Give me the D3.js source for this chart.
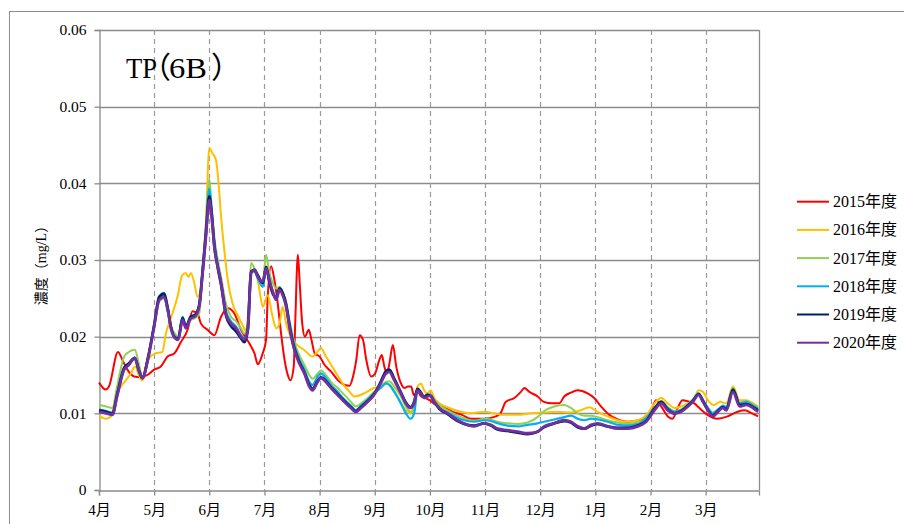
<!DOCTYPE html>
<html>
<head>
<meta charset="utf-8">
<script src="https://cdn.jsdelivr.net/npm/d3@7"></script>
<style>
  html, body { margin: 0; padding: 0; background: #fff; }
  svg { display: block; }
  text { font-family: "Liberation Serif", "Noto Sans CJK JP", serif; fill: #000; }
</style>
</head>
<body>
<svg id="chart" width="904" height="524"></svg>
<script>
// Fiscal-year labels and line colours
const years = ["2015年度", "2016年度", "2017年度", "2018年度", "2019年度", "2020年度"];
const colors = ["#ff0000", "#ffc000", "#92d050", "#00b0f0", "#002060", "#7030a0"];
const widths = [2, 2, 2, 2.2, 2.8, 2.8];

// Month tick labels (fiscal year starting in April)
const monthLabels = ["4月", "5月", "6月", "7月", "8月", "9月", "10月", "11月", "12月", "1月", "2月", "3月"];
const yTicks = [0, 0.01, 0.02, 0.03, 0.04, 0.05, 0.06];

// 2015 (day of fiscal year, mg/L)
const days2015 = [0,3.7,5.5,10.5,12.9,15.7,19.4,23,26.8,30.5,34.2,37.9,41.6,45.3,49,51.7,54.5,56.4,60,63.8,67.5,71.2,74.9,78.5,83.2,86,87.8,90.5,92.4,93.3,95.2,97,98.5,100.7,102.6,104.4,105.8,107.7,108.5,110,111,112.4,113.9,116,117.5,119.3,122,124.8,128.5,132.2,135.9,138.6,140.5,142.3,144.1,146,147.8,150.5,152.7,155.1,156.4,157.8,159.3,160.6,162.5,164.4,167,168.9,170.8,172.6,174.1,176.3,178.2,180.4,183,186.3,190,195.6,200.7,205.7,213,219.5,222,225,229.7,233.3,235.2,238,242.6,246,250.6,254.5,257.3,261,264.6,270.2,273.9,277.6,282.2,286.9,292.4,298,301.7,305.2,308,310.9,314.6,317.2,320,322.7,326.4,329.2,332,336.5,342,347.6,353.1,357,361.2,364.5];
const vals2015 = [0.0140,0.0131,0.0135,0.0180,0.0170,0.0157,0.0148,0.0147,0.0150,0.0157,0.0161,0.0174,0.0178,0.0193,0.0209,0.0233,0.0230,0.0217,0.0209,0.0202,0.0226,0.0237,0.0230,0.0209,0.0191,0.0178,0.0164,0.0178,0.0196,0.0252,0.0292,0.0274,0.0250,0.0204,0.0170,0.0150,0.0143,0.0161,0.0217,0.0307,0.0270,0.0217,0.0200,0.0209,0.0196,0.0178,0.0174,0.0163,0.0154,0.0143,0.0137,0.0136,0.0148,0.0170,0.0202,0.0196,0.0170,0.0148,0.0152,0.0170,0.0176,0.0161,0.0152,0.0165,0.0189,0.0161,0.0139,0.0133,0.0135,0.0135,0.0124,0.0128,0.0122,0.0120,0.0117,0.0111,0.0109,0.0102,0.0098,0.0093,0.0093,0.0096,0.0100,0.0115,0.0120,0.0128,0.0133,0.0128,0.0122,0.0115,0.0113,0.0113,0.0122,0.0127,0.0130,0.0126,0.0120,0.0109,0.0098,0.0092,0.0089,0.0091,0.0093,0.0102,0.0117,0.0109,0.0096,0.0093,0.0107,0.0117,0.0115,0.0113,0.0107,0.0098,0.0093,0.0096,0.0102,0.0104,0.0100,0.0096];

// 2016
const days2016 = [0,3.7,6.5,10,14.8,17.6,20,22,24,27.7,31,35,37,40,43.4,46,48,49.5,50.8,52.7,54.5,56,57.3,59.1,61,62.8,64.7,66,67.5,69.3,71.2,73.9,76.7,79.4,81.3,83.2,85,86.9,88.7,90.6,93.3,96,98,99.8,101.6,103.5,106,109.6,113.3,118.1,120,122.8,125.5,130,134.7,139.3,141.1,146.6,152.1,155.8,159.5,163.2,167,170.5,172.3,174.2,176.1,178,179.8,181.6,183.4,185.4,188.2,193.7,200.2,205.7,213,218.5,224,231.5,238.8,246.2,253.6,261,266.5,271.1,275.8,281.3,286.9,292.4,298,303.5,307.2,310.9,314.6,318.3,322,325.7,328.4,331.6,334,336.8,340,343.6,346.9,350.6,354.3,358,361.7,364.5];
const vals2016 = [0.0097,0.0093,0.0096,0.0126,0.0143,0.0152,0.0161,0.0150,0.0143,0.0172,0.0178,0.0180,0.0204,0.0226,0.0252,0.0280,0.0283,0.0278,0.0283,0.0270,0.0252,0.0258,0.0283,0.0348,0.0446,0.0439,0.0430,0.0404,0.0357,0.0313,0.0274,0.0243,0.0228,0.0215,0.0207,0.0252,0.0287,0.0283,0.0261,0.0239,0.0254,0.0226,0.0211,0.0217,0.0239,0.0217,0.0200,0.0189,0.0183,0.0174,0.0178,0.0185,0.0174,0.0157,0.0139,0.0126,0.0122,0.0126,0.0133,0.0135,0.0139,0.0130,0.0113,0.0102,0.0100,0.0109,0.0135,0.0139,0.0130,0.0126,0.0130,0.0120,0.0113,0.0107,0.0102,0.0100,0.0102,0.0100,0.0098,0.0098,0.0100,0.0101,0.0102,0.0101,0.0104,0.0108,0.0102,0.0096,0.0091,0.0089,0.0091,0.0100,0.0113,0.0120,0.0113,0.0107,0.0109,0.0113,0.0115,0.0130,0.0128,0.0117,0.0111,0.0115,0.0113,0.0135,0.0117,0.0117,0.0113,0.0109];

// 2017–2020 share one sampling grid
const groupDays = [0,4,7.4,10,13.9,16.5,19.8,22,24,27,30.5,33.3,36,38,40,42,43.8,46.2,48,50.8,53,55.4,57.3,59.1,61,62.3,63.8,65.7,67.5,70.2,73,75.8,78.5,80.4,82.3,84.1,86,87.8,90.6,92.4,94.2,96.1,98,99.8,101.6,103.5,105.3,108,110.8,113.6,116.3,118.1,120.9,122.7,125.5,128.3,132,135.7,139.3,142,144.9,148.6,152.1,155.8,158.7,160.5,163.3,167,169.7,172.3,174.3,176.1,178,179.8,181.6,183.4,185.4,188.2,192.8,198.3,203.8,207.5,213,216.7,220.4,225.9,231.5,237,242.5,246.2,251.7,257.3,261,264.7,268.4,272.1,275.8,281.3,286.9,292.4,298,302.6,307.2,310.9,314.6,318.3,322,325.7,328.4,331.6,334,336.8,339.5,342.3,345.1,346.9,350.6,354.3,358,361.7,364.5];
const vals2017 = [0.0111,0.0109,0.0107,0.0135,0.0174,0.0180,0.0183,0.0165,0.0148,0.0172,0.0213,0.0246,0.0250,0.0233,0.0213,0.0204,0.0200,0.0226,0.0215,0.0222,0.0224,0.0230,0.0287,0.0345,0.0406,0.0370,0.0330,0.0300,0.0278,0.0243,0.0226,0.0220,0.0211,0.0204,0.0220,0.0296,0.0289,0.0278,0.0270,0.0307,0.0283,0.0270,0.0263,0.0265,0.0257,0.0246,0.0222,0.0193,0.0176,0.0163,0.0150,0.0145,0.0152,0.0156,0.0150,0.0141,0.0133,0.0124,0.0115,0.0109,0.0113,0.0120,0.0128,0.0135,0.0141,0.0142,0.0135,0.0122,0.0109,0.0102,0.0107,0.0133,0.0128,0.0122,0.0126,0.0124,
  0.0118,0.0111,0.0104,0.0097,0.0092,0.0090,0.0093,0.0092,0.0089,0.0087,0.0086,0.0088,0.0095,0.0103,0.0109,0.0111,0.0107,0.0100,0.0097,0.0097,0.0095,0.0091,0.0088,0.0086,0.0088,0.0094,0.0107,0.0116,0.0108,0.0103,0.0105,0.0112,0.0118,0.0126,0.0118,0.0107,0.0101,0.0105,0.0110,0.0108,0.0133,0.0114,0.0116,0.0112,0.0107];
const vals2018 = [0.0105,0.0103,0.0101,0.0125,0.0160,0.0165,0.0173,0.0158,0.0147,0.0172,0.0215,0.0252,0.0257,0.0238,0.0211,0.0200,0.0198,0.0226,0.0213,0.0226,0.0228,0.0241,0.0287,0.0340,0.0393,0.0365,0.0322,0.0293,0.0272,0.0233,0.0220,0.0213,0.0202,0.0198,0.0211,0.0283,0.0285,0.0276,0.0265,0.0290,0.0270,0.0255,0.0252,0.0263,0.0257,0.0243,0.0218,0.0189,0.0170,0.0157,0.0141,0.0137,0.0148,0.0152,0.0146,0.0137,0.0128,0.0118,0.0110,0.0104,0.0110,0.0118,0.0126,0.0133,0.0139,0.0137,0.0128,0.0113,0.0100,0.0093,0.0100,0.0128,0.0126,0.0120,0.0124,0.0122,
  0.0114,0.0107,0.0101,0.0094,0.0090,0.0089,0.0091,0.0090,0.0087,0.0084,0.0083,0.0085,0.0087,0.0089,0.0092,0.0095,0.0097,0.0093,0.0091,0.0093,0.0092,0.0089,0.0085,0.0084,0.0086,0.0094,0.0107,0.0115,0.0107,0.0102,0.0104,0.0111,0.0117,0.0126,0.0117,0.0107,0.0100,0.0105,0.0110,0.0108,0.0131,0.0113,0.0115,0.0110,0.0106];
const vals2019 = [0.0104,0.0102,0.0099,0.0124,0.0159,0.0165,0.0172,0.0156,0.0146,0.0171,0.0215,0.0252,0.0256,0.0237,0.0210,0.0199,0.0197,0.0224,0.0213,0.0226,0.0228,0.0241,0.0285,0.0333,0.0383,0.0360,0.0318,0.0290,0.0268,0.0228,0.0214,0.0207,0.0198,0.0193,0.0209,0.0285,0.0287,0.0280,0.0270,0.0291,0.0272,0.0257,0.0250,0.0263,0.0257,0.0241,0.0215,0.0185,0.0167,0.0153,0.0137,0.0132,0.0142,0.0147,0.0142,0.0134,0.0125,0.0116,0.0108,0.0103,0.0108,0.0116,0.0125,0.0141,0.0155,0.0157,0.0145,0.0127,0.0114,0.0108,0.0115,0.0132,0.0127,0.0121,0.0124,0.0123,
  0.0115,0.0106,0.0099,0.0090,0.0085,0.0084,0.0087,0.0084,0.0079,0.0077,0.0075,0.0073,0.0076,0.0082,0.0087,0.0090,0.0088,0.0082,0.0080,0.0084,0.0086,0.0083,0.0081,0.0081,0.0084,0.0090,0.0106,0.0115,0.0105,0.0100,0.0103,0.0110,0.0116,0.0125,0.0116,0.0104,0.0097,0.0103,0.0108,0.0105,0.0131,0.0111,0.0112,0.0108,0.0104];
const vals2020 = [0.0102,0.0100,0.0098,0.0122,0.0157,0.0163,0.0172,0.0157,0.0146,0.0170,0.0213,0.0248,0.0252,0.0235,0.0209,0.0198,0.0196,0.0222,0.0211,0.0224,0.0226,0.0239,0.0283,0.0330,0.0378,0.0357,0.0317,0.0291,0.0270,0.0230,0.0217,0.0211,0.0200,0.0196,0.0209,0.0283,0.0287,0.0278,0.0272,0.0289,0.0274,0.0259,0.0248,0.0261,0.0254,0.0239,0.0213,0.0183,0.0165,0.0152,0.0135,0.0130,0.0141,0.0146,0.0141,0.0133,0.0124,0.0115,0.0107,0.0102,0.0107,0.0115,0.0124,0.0139,0.0152,0.0154,0.0143,0.0126,0.0113,0.0107,0.0113,0.0130,0.0126,0.0120,0.0122,0.0123,
  0.0115,0.0107,0.0100,0.0091,0.0085,0.0083,0.0087,0.0085,0.0080,0.0078,0.0076,0.0074,0.0076,0.0083,0.0087,0.0091,0.0089,0.0083,0.0080,0.0085,0.0087,0.0083,0.0080,0.0080,0.0083,0.0089,0.0104,0.0113,0.0104,0.0100,0.0102,0.0109,0.0115,0.0124,0.0115,0.0104,0.0096,0.0102,0.0107,0.0104,0.0128,0.0109,0.0111,0.0107,0.0102];

const seriesData = [
  d3.zip(days2015, vals2015),
  d3.zip(days2016, vals2016),
  d3.zip(groupDays, vals2017),
  d3.zip(groupDays, vals2018),
  d3.zip(groupDays, vals2019),
  d3.zip(groupDays, vals2020)
];

const svg = d3.select("#chart");
const plot = { left: 99, right: 759, top: 30, bottom: 490 };
const monthLen = 30.5;

const x = d3.scaleLinear().domain([0, 365]).range([plot.left, plot.right]);
const y = d3.scaleLinear().domain([0, 0.06]).range([plot.bottom, plot.top]);
const monthDays = monthLabels.map((m, i) => i * monthLen);

// outer chart frame
svg.append("rect")
  .attr("x", 9.5).attr("y", 11.5)
  .attr("width", 904).attr("height", 530)
  .attr("fill", "none").attr("stroke", "#8c8c8c").attr("stroke-width", 1);

// horizontal gridlines
svg.append("g")
  .selectAll("line")
  .data(yTicks.slice(1))
  .join("line")
  .attr("x1", plot.left).attr("x2", plot.right)
  .attr("y1", d => Math.round(y(d)) + 0.5).attr("y2", d => Math.round(y(d)) + 0.5)
  .attr("stroke", "#8c8c8c").attr("stroke-width", 1.3);

// dashed month gridlines
svg.append("g")
  .selectAll("line")
  .data(monthDays.slice(1))
  .join("line")
  .attr("x1", d => Math.round(x(d)) + 0.5).attr("x2", d => Math.round(x(d)) + 0.5)
  .attr("y1", plot.top).attr("y2", plot.bottom)
  .attr("stroke", "#9a9a9a").attr("stroke-width", 1.2)
  .attr("stroke-dasharray", "5,4");

// right border of plot area
svg.append("line")
  .attr("x1", plot.right + 0.5).attr("x2", plot.right + 0.5)
  .attr("y1", plot.top).attr("y2", plot.bottom)
  .attr("stroke", "#8c8c8c").attr("stroke-width", 1.3);

// y axis
const yAxis = svg.append("g")
  .attr("transform", `translate(${plot.left + 0.5},0)`)
  .call(d3.axisLeft(y).tickValues(yTicks).tickSize(5).tickPadding(8)
    .tickFormat(d => d === 0 ? "0" : d3.format(".2f")(d)));
yAxis.select(".domain").attr("stroke", "#8c8c8c").attr("stroke-width", 1.3);
yAxis.selectAll(".tick line").attr("stroke", "#8c8c8c").attr("stroke-width", 1.3);
yAxis.selectAll(".tick text").attr("font-size", 15.5).attr("fill", "#000");

// x axis
const xAxis = svg.append("g")
  .attr("transform", `translate(0,${plot.bottom + 0.5})`)
  .call(d3.axisBottom(x).tickValues(monthDays).tickSize(5).tickPadding(9)
    .tickFormat((d, i) => monthLabels[i]));
xAxis.select(".domain").attr("stroke", "#8c8c8c").attr("stroke-width", 1.3);
xAxis.selectAll(".tick line").attr("stroke", "#8c8c8c").attr("stroke-width", 1.3);
xAxis.selectAll(".tick text").attr("font-size", 15).attr("fill", "#000");

// data lines
const line = d3.line()
  .x(d => x(d[0]))
  .y(d => y(d[1]))
  .curve(d3.curveMonotoneX);

svg.append("g")
  .selectAll("path")
  .data(seriesData)
  .join("path")
  .attr("d", line)
  .attr("fill", "none")
  .attr("stroke", (d, i) => colors[i])
  .attr("stroke-width", (d, i) => widths[i])
  .attr("stroke-linejoin", "round");

// title inside plot: each piece is placed by where its ink starts,
// so the full-width brackets sit snugly around "6B"
const titleFont = '30px "Liberation Serif", "Noto Sans CJK JP", serif';
const measureCtx = document.createElement("canvas").getContext("2d");
measureCtx.font = titleFont;
const inkLeft = s => measureCtx.measureText(s).actualBoundingBoxLeft;
const titleParts = [
  { text: "TP", ink: 126, fit: 31 },
  { text: "（", ink: 161 },
  { text: "6B", ink: 170, fit: 38 },
  { text: "）", ink: 212 }
];
const titleGroup = svg.append("g");
titleParts.forEach(p => {
  const t = titleGroup.append("text")
    .attr("x", p.ink + inkLeft(p.text))
    .attr("y", 78)
    .attr("font-size", 30)
    .text(p.text);
  if (p.fit) t.attr("textLength", p.fit).attr("lengthAdjust", "spacingAndGlyphs");
});

// y axis title
svg.append("text")
  .attr("transform", "translate(46,262) rotate(-90)")
  .attr("text-anchor", "middle")
  .attr("font-size", 14)
  .text("濃度（mg/L）");

// legend
const legend = svg.append("g");
years.forEach((label, i) => {
  const cy = 201.7 + i * 28.2;
  legend.append("line")
    .attr("x1", 797).attr("x2", 829)
    .attr("y1", cy).attr("y2", cy)
    .attr("stroke", colors[i]).attr("stroke-width", 2);
  legend.append("text")
    .attr("x", 833).attr("y", cy + 5.5)
    .attr("font-size", 16)
    .text(label);
});
</script>
</body>
</html>
